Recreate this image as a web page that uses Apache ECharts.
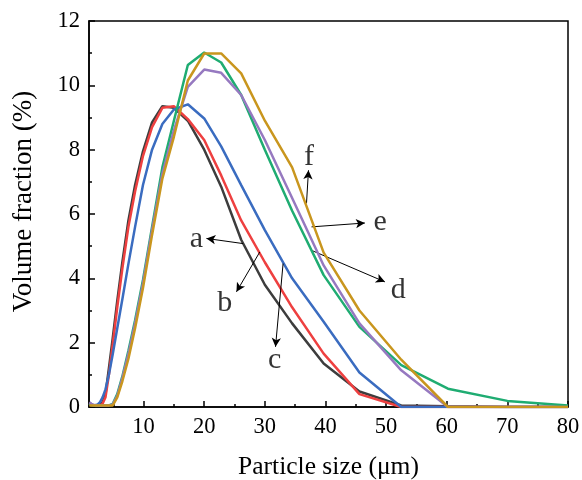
<!DOCTYPE html>
<html>
<head>
<meta charset="utf-8">
<script src="https://cdn.jsdelivr.net/npm/echarts@6/dist/echarts.min.js"></script>
<style>html,body{margin:0;padding:0;background:#fff}#c{width:582px;height:480px}</style>
</head>
<body>
<div id="c"></div>
<script>
// Particle size bins (µm)
var sizes = [1.06,1.22,1.4,1.61,1.85,2.13,2.45,2.82,3.24,3.72,4.28,4.92,5.66,6.5,7.5,8.6,9.9,11.4,13.1,15.0,17.3,20.0,22.8,26.1,30.0,34.5,39.7,45.6,52.5,60.2,70.0,80.0];
// Volume fraction (%) per series
var seriesA = [0.12,0.1,0.08,0.06,0.05,0.05,0.05,0.08,0.15,0.4,1.2,2.15,3.3,4.5,5.8,6.9,7.95,8.85,9.35,9.3,8.9,8.0,6.85,5.2,3.8,2.6,1.35,0.48,0.05,0.02,0,0];
var seriesB = [0.1,0.08,0.06,0.05,0.05,0.05,0.05,0.05,0.1,0.3,1.0,1.95,3.1,4.3,5.6,6.7,7.8,8.7,9.3,9.35,8.95,8.3,7.2,5.8,4.5,3.1,1.66,0.4,0,0,0,0];
var seriesC = [0.1,0.08,0.06,0.05,0.05,0.05,0.08,0.15,0.3,0.55,1.0,1.65,2.45,3.35,4.45,5.6,6.9,8.0,8.8,9.25,9.41,8.97,8.1,6.9,5.5,4.0,2.65,1.07,0,0,0,0];
var seriesD = [0.1,0.08,0.06,0.05,0.05,0.05,0.05,0.05,0.05,0.05,0.05,0.1,0.4,0.95,1.75,2.7,3.95,5.6,7.45,8.9,10.63,11.02,10.71,9.7,8.0,6.1,4.1,2.49,1.3,0.57,0.19,0.05];
var seriesE = [0.15,0.12,0.1,0.08,0.06,0.05,0.05,0.05,0.05,0.05,0.05,0.08,0.35,0.9,1.65,2.6,3.85,5.5,7.25,8.6,9.95,10.49,10.39,9.7,8.3,6.5,4.4,2.6,1.14,0,0,0];
var seriesF = [0.05,0.05,0.05,0.05,0.05,0.05,0.05,0.05,0.05,0.05,0.05,0.05,0.3,0.8,1.5,2.45,3.7,5.35,7.1,8.4,10.15,10.99,10.99,10.37,8.9,7.45,4.8,3.0,1.47,0,0,0];
var seriesNames = ['a','b','c','d','e','f'];
var seriesColors = ['#3d3d3d','#ee4040','#3a6cc0','#1fac72','#9679c0','#c9961e'];
// Tick labels
var xMajorTicks = [10,20,30,40,50,60,70,80];
var xMinorTicks = [5,15,25,35,45,55,65,75];
// Annotation letters [x, y, text] and arrows [[x1,y1],[x2,y2]] in data units
var labelPoints = [[18.7,5.22,'a'],[23.4,3.23,'b'],[31.6,1.45,'c'],[52.0,3.63,'d'],[49.0,5.75,'e'],[37.3,7.77,'f']];
var arrows = [
  [[26.41,5.08],[20.37,5.24]],
  [[29.17,4.82],[25.32,3.58]],
  [[33.01,4.46],[31.76,1.87]],
  [[37.7,4.87],[49.8,3.89]],
  [[37.7,5.6],[46.5,5.72]],
  [[36.87,6.33],[37.2,7.36]]
];

var FONT = '"Liberation Serif","Times New Roman",serif';
var allData = [seriesA,seriesB,seriesC,seriesD,seriesE,seriesF];
var series = allData.map(function(vals, i){
  return {
    name: seriesNames[i], type: 'line', xAxisIndex: 0, yAxisIndex: 0,
    data: sizes.map(function(x, j){ return [x, vals[j]]; }),
    showSymbol: false, symbol: 'none', smooth: false,
    lineStyle: {color: seriesColors[i], width: 2.5},
    itemStyle: {color: seriesColors[i]},
    clip: true, z: 2 + i
  };
});
series.push({
  type: 'scatter', xAxisIndex: 0, yAxisIndex: 0, symbolSize: 0, silent: true, z: 20,
  data: labelPoints.map(function(p){ return {value: [p[0], p[1]], name: p[2]}; }),
  label: {show: true, position: 'inside', formatter: '{b}', color: '#000', fontFamily: FONT, fontSize: 30},
  markLine: {
    silent: true, symbol: ['none','arrow'], symbolSize: [7, 9],
    lineStyle: {color: '#000', width: 1, type: 'solid'}, label: {show: false},
    data: arrows.map(function(a){ return [{coord: a[0]}, {coord: a[1]}]; })
  }
});

var chart = echarts.init(document.getElementById('c'), null, {renderer: 'canvas'});
chart.setOption({
  animation: false,
  backgroundColor: '#fff',
  grid: {left: 89, right: 14, top: 21, bottom: 73, containLabel: false, outerBoundsMode: 'none',
         show: true, borderColor: '#000', borderWidth: 1.5, backgroundColor: 'transparent'},
  xAxis: [{
    type: 'value', min: 1, max: 80,
    name: 'Particle size (μm)', nameLocation: 'middle', nameGap: 47,
    nameTextStyle: {fontFamily: FONT, fontSize: 25.5, color: '#000'},
    axisLine: {show: true, lineStyle: {color: '#000', width: 1.5}},
    axisTick: {show: true, inside: true, length: 6, customValues: xMajorTicks, lineStyle: {color: '#000', width: 1.5}},
    axisLabel: {show: true, customValues: xMajorTicks, fontFamily: FONT, fontSize: 22.5, color: '#000', margin: 9},
    splitLine: {show: false}
  },{
    type: 'value', min: 1, max: 80, gridIndex: 0, position: 'bottom',
    axisLine: {show: false},
    axisTick: {show: true, inside: true, length: 3, customValues: xMinorTicks, lineStyle: {color: '#000', width: 1.5}},
    axisLabel: {show: false},
    splitLine: {show: false}
  }],
  yAxis: [{
    type: 'value', min: 0, max: 12, interval: 2,
    name: 'Volume fraction (%)', nameLocation: 'middle', nameGap: 52,
    nameTextStyle: {fontFamily: FONT, fontSize: 27, color: '#000', padding: [0,0,0,25]},
    axisLine: {show: true, lineStyle: {color: '#000', width: 1.5}},
    axisTick: {show: true, inside: true, length: 6, lineStyle: {color: '#000', width: 1.5}},
    minorTick: {show: true, splitNumber: 2, length: 3, lineStyle: {color: '#000', width: 1.5}},
    axisLabel: {fontFamily: FONT, fontSize: 22.5, color: '#000', margin: 9},
    splitLine: {show: false}, minorSplitLine: {show: false}
  }],
  series: series
});
</script>
</body>
</html>
